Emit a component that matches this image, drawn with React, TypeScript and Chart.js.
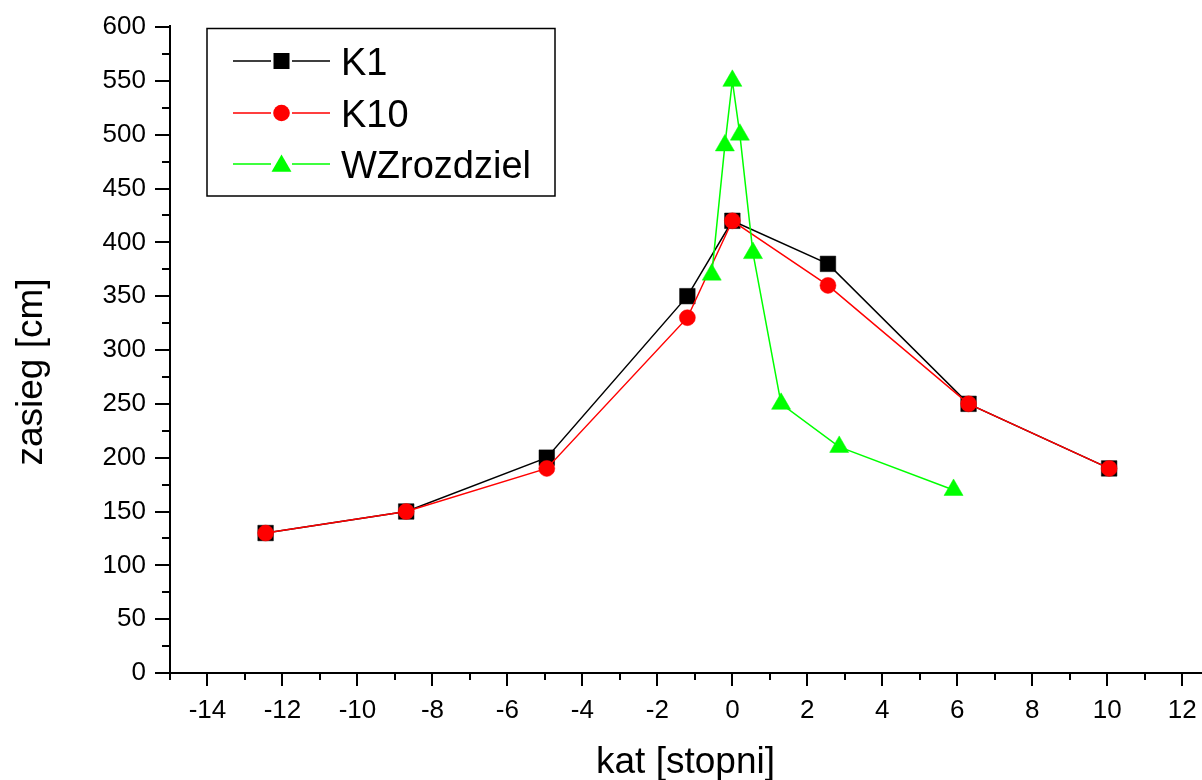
import React, { useEffect, useRef } from "react";
import { Chart, registerables } from "chart.js";

Chart.register(...registerables);

// ---- data ----
const k1Angles = [-12.45, -8.7, -4.95, -1.2, 0, 2.55, 6.3, 10.05];
const k1Values = [130, 150, 200, 350, 420, 380, 250, 190];
const k10Angles = [-12.45, -8.7, -4.95, -1.2, 0, 2.55, 6.3, 10.05];
const k10Values = [130, 150, 190, 330, 420, 360, 250, 190];
const wzAngles = [-0.55, -0.2, 0, 0.2, 0.55, 1.3, 2.85, 5.9];
const wzValues = [370, 490, 550, 500, 390, 250, 210, 170];
const seriesNames = ["K1", "K10", "WZrozdziel"];
const xMajorTicks = [-14, -12, -10, -8, -6, -4, -2, 0, 2, 4, 6, 8, 10, 12];
const xMinorTicks = [-15, -13, -11, -9, -7, -5, -3, -1, 1, 3, 5, 7, 9, 11];
const yMajorTicks = [0, 50, 100, 150, 200, 250, 300, 350, 400, 450, 500, 550, 600];
const yMinorTicks = [25, 75, 125, 175, 225, 275, 325, 375, 425, 475, 525, 575];
const xTitle = "kat [stopni]";
const yTitle = "zasieg [cm]";

const FONT = "'Liberation Sans', Arial, sans-serif";
const COLORS = ["#000000", "#ff0000", "#00ff00"];
const STYLES = ["rect", "circle", "triangle"];

function drawMarker(ctx: CanvasRenderingContext2D, style: string, x: number, y: number, color: string) {
  ctx.fillStyle = color;
  ctx.beginPath();
  if (style === "rect") {
    ctx.rect(x - 8, y - 8, 16, 16);
  } else if (style === "circle") {
    ctx.arc(x, y, 8.3, 0, Math.PI * 2);
  } else {
    const r = 11.5;
    ctx.moveTo(x, y - r);
    ctx.lineTo(x + r * Math.sin((2 * Math.PI) / 3), y + r * 0.5);
    ctx.lineTo(x - r * Math.sin((2 * Math.PI) / 3), y + r * 0.5);
    ctx.closePath();
  }
  ctx.fill();
}

const decorPlugin = {
  id: "decor",
  afterDraw(chart: any) {
    const { ctx, chartArea: a, scales } = chart;
    const x = scales.x;
    const y = scales.y;
    ctx.save();
    ctx.strokeStyle = "#000";
    ctx.lineWidth = 2;
    ctx.lineCap = "butt";
    ctx.beginPath();
    // axis lines
    ctx.moveTo(a.left, a.top - 2);
    ctx.lineTo(a.left, a.bottom + 1);
    ctx.moveTo(a.left - 1, a.bottom);
    ctx.lineTo(a.right + 2, a.bottom);
    // y ticks
    yMajorTicks.forEach((v) => {
      const py = Math.round(y.getPixelForValue(v));
      ctx.moveTo(a.left - 15, py);
      ctx.lineTo(a.left, py);
    });
    yMinorTicks.forEach((v) => {
      const py = Math.round(y.getPixelForValue(v));
      ctx.moveTo(a.left - 8, py);
      ctx.lineTo(a.left, py);
    });
    // x ticks
    xMajorTicks.forEach((v) => {
      const px = Math.round(x.getPixelForValue(v));
      ctx.moveTo(px, a.bottom);
      ctx.lineTo(px, a.bottom + 13);
    });
    xMinorTicks.forEach((v) => {
      const px = Math.round(x.getPixelForValue(v));
      ctx.moveTo(px, a.bottom);
      ctx.lineTo(px, a.bottom + 7);
    });
    ctx.stroke();

    // axis titles
    ctx.fillStyle = "#000";
    ctx.font = `37px ${FONT}`;
    ctx.textAlign = "center";
    ctx.textBaseline = "alphabetic";
    ctx.fillText(xTitle, (a.left + a.right) / 2, 773);
    ctx.save();
    ctx.translate(42, 372);
    ctx.rotate(-Math.PI / 2);
    ctx.fillText(yTitle, 0, 0);
    ctx.restore();

    // legend
    ctx.lineWidth = 1.5;
    ctx.strokeStyle = "#000";
    ctx.strokeRect(207, 28.5, 348, 167.5);
    const rows = [61, 113, 164];
    const baselines = [75, 127, 178];
    seriesNames.forEach((name, i) => {
      const ry = rows[i];
      ctx.strokeStyle = COLORS[i];
      ctx.lineWidth = 1.3;
      ctx.beginPath();
      ctx.moveTo(233, ry);
      ctx.lineTo(271, ry);
      ctx.moveTo(292, ry);
      ctx.lineTo(330, ry);
      ctx.stroke();
      drawMarker(ctx, STYLES[i], 281.5, ry + (STYLES[i] === "triangle" ? 2 : 0), COLORS[i]);
      ctx.fillStyle = "#000";
      ctx.font = `38px ${FONT}`;
      ctx.textAlign = "left";
      ctx.textBaseline = "alphabetic";
      ctx.fillText(name, 341, baselines[i]);
    });
    ctx.restore();
  },
};

function zeroPadding(scale: any) {
  scale.paddingTop = 0;
  scale.paddingBottom = 0;
  scale.paddingLeft = 0;
  scale.paddingRight = 0;
}

export default function App() {
  const canvasRef = useRef<HTMLCanvasElement | null>(null);

  useEffect(() => {
    const canvas = canvasRef.current;
    if (!canvas) return;
    const toPoints = (xs: number[], ys: number[]) => xs.map((v, i) => ({ x: v, y: ys[i] }));
    const chart = new Chart(canvas, {
      type: "line",
      data: {
        datasets: [
          {
            label: seriesNames[0],
            data: toPoints(k1Angles, k1Values),
            borderColor: COLORS[0],
            backgroundColor: COLORS[0],
            pointBackgroundColor: COLORS[0],
            pointBorderColor: COLORS[0],
            pointStyle: "rect",
            pointRadius: 11,
            pointBorderWidth: 0.5,
            borderWidth: 1.5,
            order: 3,
          },
          {
            label: seriesNames[1],
            data: toPoints(k10Angles, k10Values),
            borderColor: COLORS[1],
            backgroundColor: COLORS[1],
            pointBackgroundColor: COLORS[1],
            pointBorderColor: COLORS[1],
            pointStyle: "circle",
            pointRadius: 8,
            pointBorderWidth: 0.5,
            borderWidth: 1.5,
            order: 2,
          },
          {
            label: seriesNames[2],
            data: toPoints(wzAngles, wzValues),
            borderColor: COLORS[2],
            backgroundColor: COLORS[2],
            pointBackgroundColor: COLORS[2],
            pointBorderColor: COLORS[2],
            pointStyle: "triangle",
            pointRadius: 11,
            pointBorderWidth: 0.5,
            borderWidth: 1.5,
            order: 1,
          },
        ],
      },
      options: {
        animation: false,
        responsive: false,
        devicePixelRatio: 1,
        layout: { autoPadding: false, padding: { left: 0, right: 1, top: 27, bottom: 0 } },
        plugins: {
          legend: { display: false },
          tooltip: { enabled: false },
          title: { display: false },
        },
        elements: { line: { tension: 0 } },
        scales: {
          x: {
            type: "linear",
            min: -15,
            max: 12.5,
            grid: { display: false, drawTicks: false },
            border: { display: false },
            afterBuildTicks: (scale: any) => {
              scale.ticks = xMajorTicks.map((v) => ({ value: v }));
            },
            afterFit: (scale: any) => {
              scale.height = 107;
              zeroPadding(scale);
            },
            ticks: {
              autoSkip: false,
              maxRotation: 0,
              padding: 22,
              color: "#000",
              font: { family: FONT, size: 26 },
              callback: (v: any) => String(v),
            },
          },
          y: {
            type: "linear",
            min: 0,
            max: 600,
            grid: { display: false, drawTicks: false },
            border: { display: false },
            afterBuildTicks: (scale: any) => {
              scale.ticks = yMajorTicks.map((v) => ({ value: v }));
            },
            afterFit: (scale: any) => {
              scale.width = 170;
              zeroPadding(scale);
            },
            ticks: {
              autoSkip: false,
              padding: 24,
              color: "#000",
              font: { family: FONT, size: 26 },
              callback: (v: any) => String(v),
            },
          },
        },
      },
      plugins: [decorPlugin],
    } as any);
    return () => chart.destroy();
  }, []);

  return (
    <div style={{ position: "absolute", left: 0, top: 0, width: 1202, height: 780, background: "#fff" }}>
      <canvas ref={canvasRef} width={1202} height={780} style={{ display: "block" }} />
    </div>
  );
}
